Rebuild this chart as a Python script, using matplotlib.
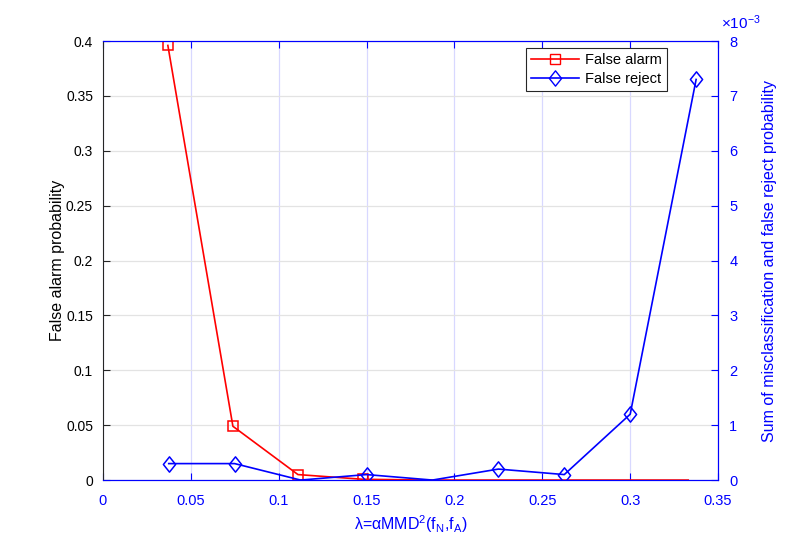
import numpy as np
import matplotlib
matplotlib.use("Agg")
import matplotlib.pyplot as plt
from matplotlib.lines import Line2D
from matplotlib.path import Path

plt.rcParams['font.family'] = ['Liberation Sans', 'DejaVu Sans']
plt.rcParams['mathtext.fontset'] = 'custom'
plt.rcParams['mathtext.rm'] = 'Liberation Sans'
plt.rcParams['mathtext.it'] = 'Liberation Sans'
plt.rcParams['mathtext.default'] = 'regular'

# data
lam_fa = [0.037, 0.074, 0.111, 0.148, 0.185, 0.222, 0.259, 0.296, 0.333]
false_alarm = [0.396, 0.049, 0.005, 0.0007, 0, 0, 0, 0, 0]
lam_fr = [0.0375, 0.075, 0.1125, 0.15, 0.1875, 0.225, 0.2625, 0.3, 0.3375]
false_reject = [0.3, 0.3, 0, 0.1, 0, 0.2, 0.1, 1.2, 7.3]   # x 1e-3

x_ticks = [0, 0.05, 0.1, 0.15, 0.2, 0.25, 0.3, 0.35]
x_labels = ["0", "0.05", "0.1", "0.15", "0.2", "0.25", "0.3", "0.35"]
yl_ticks = [0, 0.05, 0.1, 0.15, 0.2, 0.25, 0.3, 0.35, 0.4]
yl_labels = ["0", "0.05", "0.1", "0.15", "0.2", "0.25", "0.3", "0.35", "0.4"]
yr_ticks = [0, 1, 2, 3, 4, 5, 6, 7, 8]

BLUE = (0, 0, 1)
RED = (1, 0, 0)

# matlab-like diamond, a bit wider than mpl's 'd'
DIAMOND = Path([(0, 1), (0.8, 0), (0, -1), (-0.8, 0), (0, 1)],
               [Path.MOVETO, Path.LINETO, Path.LINETO, Path.LINETO, Path.CLOSEPOLY])

fig = plt.figure(figsize=(7.97, 5.40), dpi=100)
ax = fig.add_axes([0.129, 0.111, 0.772, 0.813])
ax2 = ax.twinx()

xa = np.array(lam_fa)
fa = np.array(false_alarm)
xr = np.array(lam_fr)
fr = np.array(false_reject)

# red: line through all points, markers only where nonzero
ax.plot(xa, fa, '-', color=RED, lw=1.2, zorder=3)
m = fa > 0
ax.plot(xa[m], fa[m], 's', color=RED, mfc='none', ms=7, mew=1.1, zorder=3)

ax2.plot(xr, fr, '-', color=BLUE, lw=1.2, zorder=3)
m = fr > 0
ax2.plot(xr[m], fr[m], linestyle='none', marker=DIAMOND, color=BLUE, mfc='none',
         ms=11, mew=1.1, zorder=3)

ax.set_xlim(0, 0.35)
ax.set_ylim(0, 0.4)
ax2.set_ylim(0, 8)

ax.set_xticks(x_ticks)
ax.set_xticklabels(x_labels)
ax.set_yticks(yl_ticks)
ax.set_yticklabels(yl_labels)
ax2.set_yticks(yr_ticks)
ax2.set_yticklabels([str(t) for t in yr_ticks])

ax.grid(axis='y', color='#e3e3e3', lw=0.9)
ax.grid(axis='x', color='#d8d8ff', lw=0.9)
ax.set_axisbelow(True)

ax.tick_params(axis='x', direction='in', colors=BLUE, labelsize=10.5, top=True, length=5, pad=10)
ax.tick_params(axis='y', direction='in', colors='#262626', labelsize=10, length=5,
               labelcolor='black', pad=7)
ax2.tick_params(axis='y', direction='in', colors=BLUE, labelsize=10.5, length=5, pad=8)

for s in ['bottom', 'top', 'right']:
    ax.spines[s].set_color(BLUE)
    ax2.spines[s].set_color(BLUE)
ax.spines['left'].set_color('#262626')
ax2.spines['left'].set_visible(False)

ax.set_xlabel(r"λ=αMMD$^2$(f$_N$,f$_A$)", color=BLUE, fontsize=11.5, labelpad=4)
ax.set_ylabel("False alarm probability", color='black', fontsize=11.5, labelpad=1)
ax2.set_ylabel("Sum of misclassification and false reject probability", color=BLUE,
               fontsize=11.5, labelpad=18)

ax2.text(1.004, 1.02, r"$\times$10$^{-3}$", transform=ax2.transAxes, color=BLUE,
         fontsize=11, ha='left', va='bottom')

handles = [Line2D([], [], color=RED, marker='s', mfc='none', ms=7, lw=1.2),
           Line2D([], [], color=BLUE, marker=DIAMOND, mfc='none', ms=11, lw=1.2)]
leg = ax2.legend(handles, ["False alarm", "False reject"], loc='upper right',
                 bbox_to_anchor=(0.917, 0.984), borderaxespad=0, fancybox=False,
                 framealpha=1, edgecolor='#262626', fontsize=10.5, handlelength=3.3,
                 borderpad=0.35, labelspacing=0.35, handletextpad=0.4)
leg.get_frame().set_linewidth(0.8)

fig.savefig("out.png", dpi=100)
